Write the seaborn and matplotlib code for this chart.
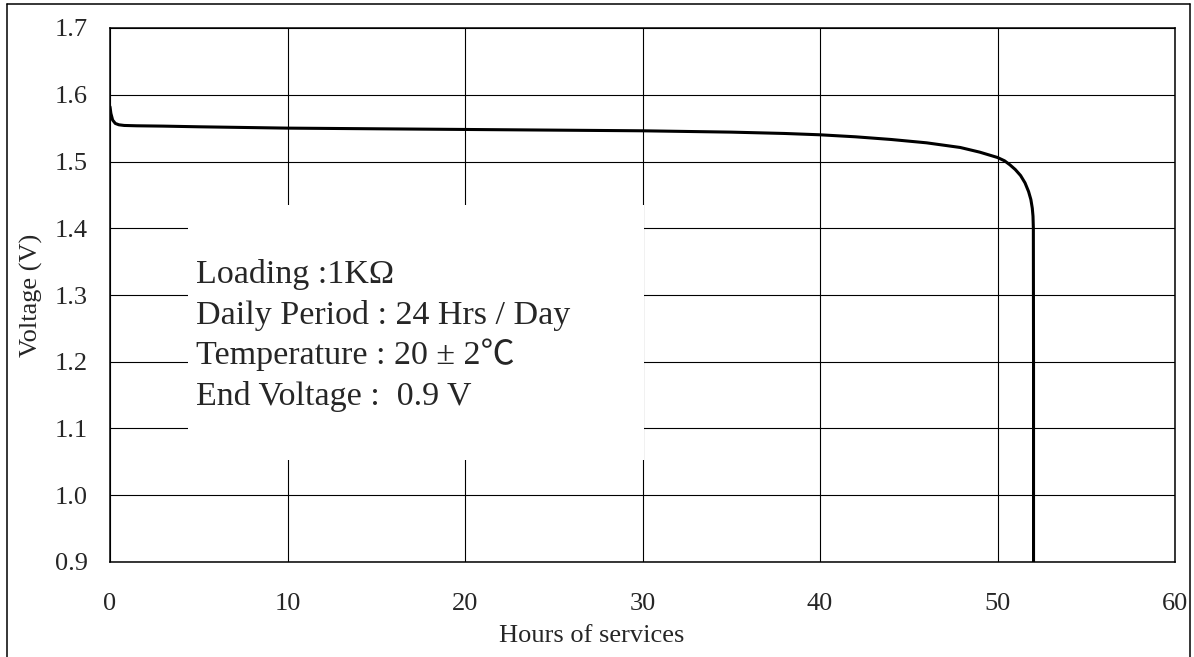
import numpy as np
import pandas as pd
import matplotlib
matplotlib.use("Agg")
import matplotlib.pyplot as plt
import matplotlib.lines as mlines
import matplotlib.patches as mpatches
import seaborn as sns

# discharge curve
hours = [0.0, 0.05, 0.15, 0.3, 0.5, 0.8, 1.5, 3.0, 5.0, 10.0, 15.0, 20.0, 25.0,
         30.0, 35.0, 38.0, 40.0, 42.0, 44.0, 46.0, 47.9, 49.0, 50.0, 50.4,
         50.7, 51.0, 51.3, 51.55, 51.75, 51.88, 51.96, 52.0, 52.02, 52.03, 52.03]
voltage = [1.582, 1.572, 1.562, 1.557, 1.555, 1.554, 1.5535, 1.553, 1.552,
           1.550, 1.549, 1.548, 1.547, 1.546, 1.544, 1.542, 1.540, 1.537,
           1.533, 1.528, 1.521, 1.514, 1.506, 1.501, 1.495, 1.488, 1.479,
           1.468, 1.455, 1.443, 1.430, 1.418, 1.400, 1.200, 0.900]

x_ticks = [0, 10, 20, 30, 40, 50, 60]
y_ticks = [0.9, 1.0, 1.1, 1.2, 1.3, 1.4, 1.5, 1.6, 1.7]
y_tick_labels = ["0.9", "1.0", "1.1", "1.2", "1.3", "1.4", "1.5", "1.6", "1.7"]

notes = ["Loading :1K\u03a9",
         "Daily Period : 24 Hrs / Day",
         "Temperature : 20 \u00b1 2\u2103",
         "End Voltage :  0.9 V"]

sns.set_style("white")
plt.rcParams["font.family"] = ["Liberation Serif", "Noto Sans CJK SC"]

df = pd.DataFrame({"hours": hours, "voltage": voltage})

fig = plt.figure(figsize=(11.94, 6.57), dpi=100)
ax = fig.add_axes([110 / 1194, 1 - 562 / 657, 1065 / 1194, 534 / 657])

sns.lineplot(data=df, x="hours", y="voltage", sort=False, estimator=None,
             color="black", lw=2.2, ax=ax, zorder=3)

ax.set_xlim(0, 60)
ax.set_ylim(0.9, 1.7)
ax.set_xticks(x_ticks)
ax.set_yticks(y_ticks)
ax.set_yticklabels(y_tick_labels)
ax.set_axisbelow(True)
ax.grid(True, color="black", lw=0.8)
ax.tick_params(axis="both", length=0, labelsize=19)
ax.tick_params(axis="x", pad=22)
ax.tick_params(axis="y", pad=16)
for s in ax.spines.values():
    s.set_color("black")
    s.set_linewidth(1.1)

ax.set_xlabel("Hours of services", fontsize=19, va="baseline")
ax.xaxis.set_label_coords(0.4526, -(642 - 562) / 534)
ax.set_ylabel("Voltage (V)", fontsize=19, va="center")
ax.yaxis.set_label_coords((31 - 110) / 1065, 0.5)

# white box that hides the grid behind the notes
ax.add_patch(mpatches.Rectangle((4.39, 1.053), 25.7, 0.382, facecolor="white",
                                edgecolor="none", zorder=1))
note_y = [1.318, 1.257, 1.196, 1.135]
for txt, yy in zip(notes, note_y):
    ax.text(4.85, yy, txt, fontsize=24.5, va="baseline", ha="left", zorder=4)

# outer frame (open at the bottom)
fx0, fx1, fy = 7 / 1194, 1190 / 1194, 1 - 4 / 657
for xs, ys in [([fx0, fx0], [0, fy]), ([fx0, fx1], [fy, fy]), ([fx1, fx1], [fy, 0])]:
    fig.add_artist(mlines.Line2D(xs, ys, color="black", lw=1.1,
                                 transform=fig.transFigure))

fig.savefig("out.png", dpi=100)
